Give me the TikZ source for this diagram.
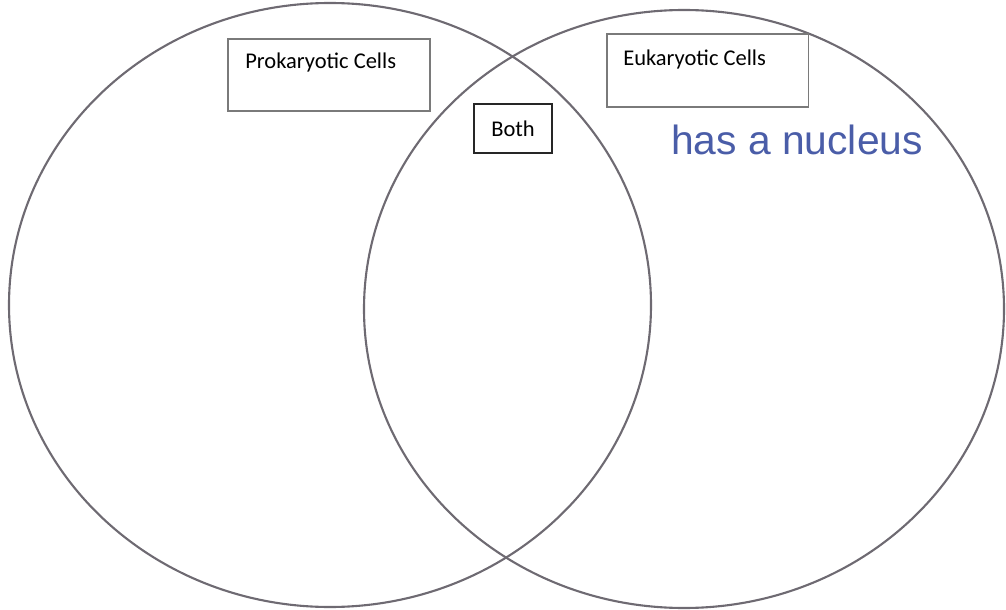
\documentclass[tikz,border=0pt]{standalone}
\usepackage{fontspec}
\setmainfont{Carlito}
\newfontfamily\handfont{Liberation Sans}
\definecolor{ringgray}{HTML}{6E6A72}
\definecolor{boxgray}{HTML}{7A7A7A}
\definecolor{penblue}{HTML}{4A5DA8}
\tikzset{
  ring/.style={draw=ringgray, line width=1.5pt},
  labelbox/.style={draw=boxgray, line width=0.9pt, inner sep=0pt},
  labeltext/.style={font=\fontsize{16}{19}\selectfont, inner sep=0pt, anchor=west},
}
\begin{document}
\begin{tikzpicture}[x=0.025cm, y=-0.025cm]

  % ========== canvas ==========
  \useasboundingbox (0,0) rectangle (1006,610);

  % ========== the two sets ==========
  % left ring: prokaryotic
  \draw[ring] (330,305) ellipse [x radius=321, y radius=302];
  % right ring: eukaryotic
  \draw[ring] (684,309) ellipse [x radius=320, y radius=299];

  % ========== headings ==========
  % left heading box
  \node[labelbox, minimum width=5.05cm, minimum height=1.8cm]
       (prokbox) at (329,75) {};
  \node[labeltext] (proktext) at (245,63) {Prokaryotic Cells};

  % right heading box
  \node[labelbox, minimum width=5.03cm, minimum height=1.83cm]
       (eukbox) at (707.5,70.5) {};
  \node[labeltext] (euktext) at (623,60) {Eukaryotic Cells};

  % middle heading box
  \node[labelbox, draw=black!85, minimum width=1.95cm, minimum height=1.23cm]
       (bothbox) at (513,128.5) {};
  \node[labeltext, anchor=center] (bothtext) at (bothbox.center) {Both};

  % ========== handwritten note ==========
  \node[font=\handfont\fontsize{29}{32}\selectfont, text=penblue, inner sep=0pt]
       (nucleus) at (797,140) {has a nucleus};

\end{tikzpicture}
\end{document}
